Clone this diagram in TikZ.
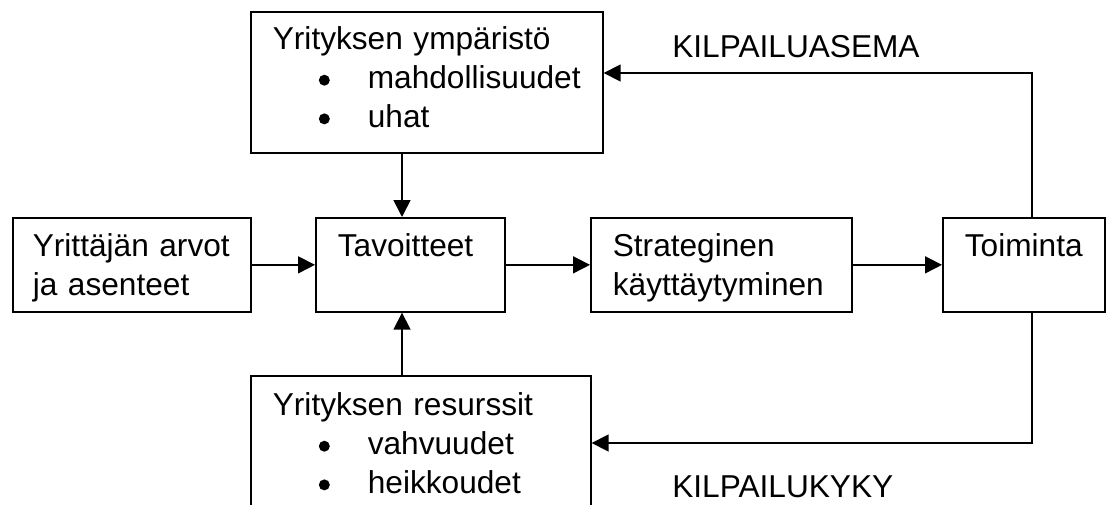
\documentclass[tikz,border=0pt]{standalone}
\usepackage{fontspec}
\setmainfont{Liberation Sans}
\usetikzlibrary{arrows.meta,positioning}
\newcommand{\dotmark}{\tikz[baseline=0pt]\fill (0,5.9pt) circle (3.9pt);}
\newcommand{\bul}[1]{\hspace*{1.15cm}\makebox[1.225cm][l]{\dotmark}#1}

\begin{document}
\begin{tikzpicture}[
    font=\fontsize{22.5}{27.5}\selectfont,
    box/.style={draw,line width=1.2pt,inner xsep=0.55cm,inner ysep=0pt,
                align=left,anchor=north west,
                text height=0.975cm,text depth=1.375cm},
    arr/.style={-{Triangle[length=12pt,width=12pt]},line width=1.2pt},
    lbl/.style={inner sep=0pt,anchor=base west}
  ]
    \useasboundingbox (0,0) rectangle (27.65,12.6);
    \clip (0,0) rectangle (27.65,12.6);

    % middle row
    \node[box,inner xsep=0.5cm,text width=4.95cm] (arvot) at (0.3,7.175) {Yrittäjän arvot\\ja asenteet};
    \node[box,text width=3.625cm] (tav)   at (7.875,7.175) {Tavoitteet};
    \node[box,text width=5.425cm] (strat) at (14.75,7.175) {Strateginen\\käyttäytyminen};
    \node[box,text width=2.95cm]  (toim)  at (23.55,7.175) {Toiminta};

    % environment and resources
    \node[box,text width=7.7cm,text height=0.95cm,text depth=2.575cm] (env) at (6.25,12.325)
      {Yrityksen ympäristö\\\bul{mahdollisuudet}\\\bul{uhat}};
    \node[box,text width=7.4cm,text height=1.0cm,text depth=2.8cm] (res) at (6.25,3.225)
      {Yrityksen resurssit\\\bul{vahvuudet}\\\bul{heikkoudet}};

    \draw[arr] (arvot)--(tav); \draw[arr] (tav)--(strat);
    \draw[arr] (strat)--(toim);

    \coordinate (vx) at (10.05,0);
    \draw[arr] (env.south -| vx)--(tav.north -| vx);
    \draw[arr] (res.north -| vx)--(tav.south -| vx);

    % feedback from Toiminta
    \coordinate (topturn) at (25.8,10.775);
    \coordinate (botturn) at (25.8,1.525);
    \draw[arr] (toim.north -| topturn)--(topturn)--(topturn -| env.east);
    \draw[arr] (toim.south -| botturn)--(botturn)--(botturn -| res.east);
    \node[lbl] (asema) at (16.8,11.175) {KILPAILUASEMA};
    \node[lbl] (kyky)  at (16.8,0.175)  {KILPAILUKYKY};
  \end{tikzpicture}
\end{document}
